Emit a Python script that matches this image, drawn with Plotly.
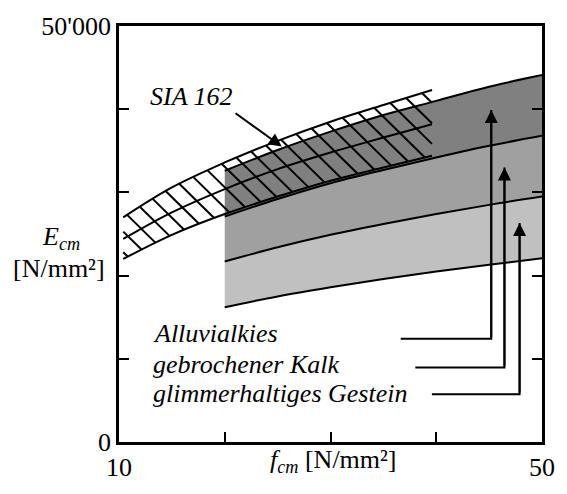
import numpy as np
import plotly.graph_objects as go

# ---------------- data ----------------
f_band = [20, 25, 30, 35, 40, 45, 50]
E_dark_top = [32600, 35100, 37300, 39300, 41000, 42700, 44100]
E_dark_bottom = [27100, 29200, 31100, 32700, 34200, 35600, 36800]
E_mid_bottom = [21700, 23400, 24900, 26200, 27400, 28500, 29500]
E_light_bottom = [16200, 17500, 18600, 19600, 20500, 21300, 22100]

f_sia = [10.4, 15, 20, 25, 30, 35, 39.6]
E_sia_top = [27000, 30600, 33600, 36200, 38500, 40500, 42300]
E_sia_mid = [24400, 27600, 30400, 32800, 34800, 36600, 38200]
E_sia_bot = [22000, 24900, 27400, 29500, 31400, 33000, 34400]

x_ticks = [10, 20, 30, 40, 50]
x_ticktext = ["10", " ", " ", " ", "50"]
y_ticks = [0, 10000, 20000, 30000, 40000, 50000]
y_ticktext = ["0", " ", " ", " ", " ", "50'000"]

labels = ["Alluvialkies", "gebrochener Kalk", "glimmerhaltiges Gestein"]
label_x = 13.05
label_y = [12990, 9310, 5860]
leader_x_start = [36.64, 38.02, 39.59]
leader_y = [12414, 8966, 5747]
leader_x = [45.2, 46.45, 47.88]
leader_tip_y = [39890, 32990, 26320]

sia_label = "SIA 162"
sia_label_pos = (16.82, 41500)
sia_arrow_tail = (20.88, 39650)
sia_arrow_head = (25.39, 35520)

X_RANGE = [10, 50]
Y_RANGE = [0, 50000]
WIDTH, HEIGHT = 567, 494
MARGIN = dict(l=119, r=14, t=22, b=37)

FONT = "Liberation Serif, Times New Roman, Times, serif"
LINE = dict(color="black", width=2, shape="spline")

fig = go.Figure()

# grey bands
fig.add_trace(go.Scatter(x=f_band, y=E_light_bottom, mode="lines", line=LINE,
                         showlegend=False, hoverinfo="skip"))
fig.add_trace(go.Scatter(x=f_band, y=E_mid_bottom, mode="lines", line=LINE,
                         fill="tonexty", fillcolor="#c0c0c0",
                         showlegend=False, hoverinfo="skip"))
fig.add_trace(go.Scatter(x=f_band, y=E_dark_bottom, mode="lines", line=LINE,
                         fill="tonexty", fillcolor="#a0a0a0",
                         showlegend=False, hoverinfo="skip"))
fig.add_trace(go.Scatter(x=f_band, y=E_dark_top, mode="lines", line=LINE,
                         fill="tonexty", fillcolor="#808080",
                         showlegend=False, hoverinfo="skip"))

# SIA 162 band: hatch lines clipped to the band between E_sia_bot and E_sia_top
plot_w = WIDTH - MARGIN["l"] - MARGIN["r"]
plot_h = HEIGHT - MARGIN["t"] - MARGIN["b"]
df_px = (X_RANGE[1] - X_RANGE[0]) / plot_w
dE_px = (Y_RANGE[1] - Y_RANGE[0]) / plot_h
hatch_spacing_px = 21.5
hatch_slope = 1.0  # px down per px right
t = np.arange(0, 600, 0.25)
hx, hy = [], []
fmin, fmax = f_sia[0], f_sia[-1]
for k in range(-30, 40):
    f0 = fmin + k * hatch_spacing_px * df_px
    fl = f0 + df_px * t
    El = Y_RANGE[1] - dE_px * hatch_slope * t
    top = np.interp(fl, f_sia, E_sia_top)
    bot = np.interp(fl, f_sia, E_sia_bot)
    inside = (fl >= fmin) & (fl <= fmax) & (El <= top) & (El >= bot)
    if inside.any():
        idx = np.where(inside)[0]
        hx += [fl[idx[0]], fl[idx[-1]], None]
        hy += [El[idx[0]], El[idx[-1]], None]
fig.add_trace(go.Scatter(x=hx, y=hy, mode="lines",
                         line=dict(color="black", width=2),
                         showlegend=False, hoverinfo="skip"))
for arr in (E_sia_bot, E_sia_mid, E_sia_top):
    fig.add_trace(go.Scatter(x=f_sia, y=arr, mode="lines", line=LINE,
                             showlegend=False, hoverinfo="skip"))

# leader lines
for xs, yh, xv, yt in zip(leader_x_start, leader_y, leader_x, leader_tip_y):
    fig.add_trace(go.Scatter(x=[xs, xv, xv], y=[yh, yh, yt], mode="lines",
                             line=dict(color="black", width=2),
                             showlegend=False, hoverinfo="skip"))
    fig.add_annotation(x=xv, y=yt, ax=xv, ay=yh, xref="x", yref="y",
                       axref="x", ayref="y", text="", showarrow=True,
                       font=dict(size=1),
                       arrowhead=2, arrowsize=1.3, arrowwidth=2, arrowcolor="black")

# labels
for txt, ly in zip(labels, label_y):
    fig.add_annotation(x=label_x, y=ly, xref="x", yref="y", text="<i>%s</i>" % txt,
                       showarrow=False, xanchor="left", yanchor="middle",
                       font=dict(family=FONT, size=26, color="black"))

fig.add_annotation(x=sia_label_pos[0], y=sia_label_pos[1], xref="x", yref="y",
                   text="<i>%s</i>" % sia_label, showarrow=False,
                   xanchor="center", yanchor="middle",
                   font=dict(family=FONT, size=26, color="black"))
fig.add_annotation(x=sia_arrow_head[0], y=sia_arrow_head[1],
                   ax=sia_arrow_tail[0], ay=sia_arrow_tail[1],
                   xref="x", yref="y", axref="x", ayref="y", text="",
                   font=dict(size=1),
                   showarrow=True, arrowhead=2, arrowsize=1.3, arrowwidth=2,
                   arrowcolor="black")

# axis titles
fig.add_annotation(x=30.28, y=-0.046, xref="x", yref="paper",
                   text="<i>f</i><sub><i>cm</i></sub> [N/mm²]", showarrow=False,
                   xanchor="center", yanchor="middle",
                   font=dict(family=FONT, size=26, color="black"))
fig.add_annotation(x=-0.136, y=0.49, xref="paper", yref="paper",
                   text="<i>E</i><sub><i>cm</i></sub>", showarrow=False,
                   xanchor="center", yanchor="middle",
                   font=dict(family=FONT, size=26, color="black"))
fig.add_annotation(x=-0.143, y=0.418, xref="paper", yref="paper",
                   text="[N/mm²]", showarrow=False,
                   xanchor="center", yanchor="middle",
                   font=dict(family=FONT, size=26, color="black"))

fig.update_xaxes(range=X_RANGE, tickvals=x_ticks, ticktext=x_ticktext,
                 ticks="inside", ticklen=10, tickwidth=2, tickcolor="black",
                 showline=True, linewidth=2.5, linecolor="black", mirror=True,
                 showgrid=False, zeroline=False,
                 tickfont=dict(family=FONT, size=26, color="black"))
fig.update_yaxes(range=Y_RANGE, tickvals=y_ticks, ticktext=y_ticktext,
                 ticks="inside", ticklen=10, tickwidth=2, tickcolor="black",
                 showline=True, linewidth=2.5, linecolor="black", mirror="ticks",
                 showgrid=False, zeroline=False,
                 tickfont=dict(family=FONT, size=26, color="black"))

fig.update_layout(width=WIDTH, height=HEIGHT, margin=MARGIN,
                  paper_bgcolor="white", plot_bgcolor="white",
                  showlegend=False)

fig.write_html("out.html")
